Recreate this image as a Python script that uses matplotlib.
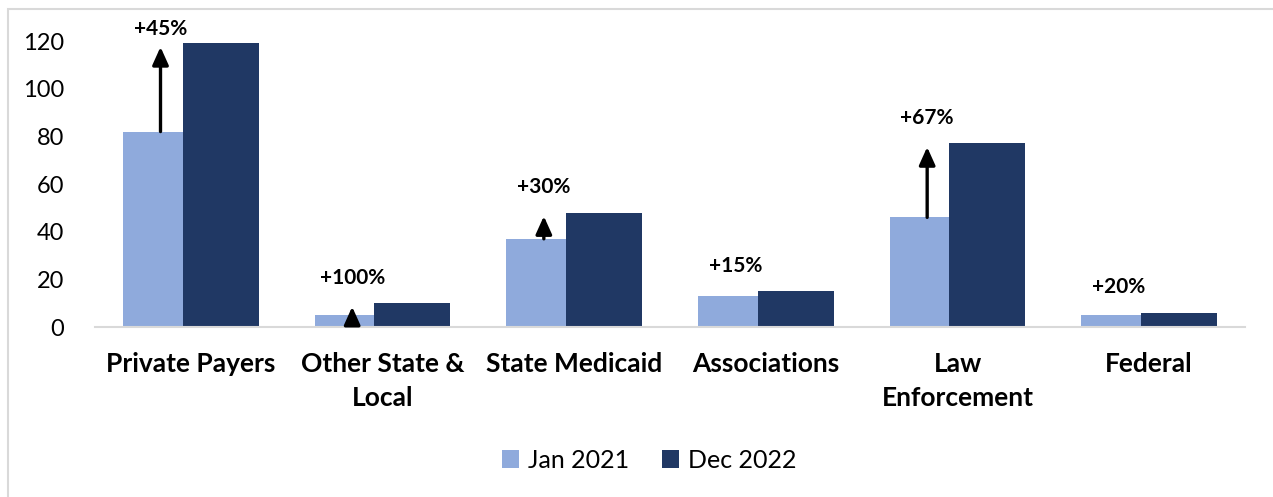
import numpy as np
import matplotlib
matplotlib.use("Agg")
import matplotlib.pyplot as plt
from matplotlib.patches import Rectangle

categories = ["Private Payers", "Other State &\nLocal", "State Medicaid",
              "Associations", "Law\nEnforcement", "Federal"]
jan_2021 = [82, 5, 37, 13, 46, 5]
dec_2022 = [119, 10, 48, 15, 77, 6]
growth_labels = ["+45%", "+100%", "+30%", "+15%", "+67%", "+20%"]
has_arrow = [True, True, True, False, True, False]

plt.rcParams['font.family'] = ['Lato', 'DejaVu Sans']

fig = plt.figure(figsize=(12.73, 4.97), dpi=100)
# light frame around the chart area
fig.patches.append(Rectangle((8/1273, -0.1), 1.2, (497-9)/497 + 0.1,
                             transform=fig.transFigure, fill=False,
                             edgecolor='#d9d9d9', lw=1.5))

ax = fig.add_axes([95/1273, 0.342, 1150/1273, 0.5755])

x = np.arange(len(categories))
w_jan = 0.3125
w_dec = 0.396
ax.bar(x - 0.042 - w_jan/2, jan_2021, w_jan, color='#8faadc', label='Jan 2021')
ax.bar(x - 0.042 + w_dec/2, dec_2022, w_dec, color='#203864', label='Dec 2022')

for i in range(len(categories)):
    xa = x[i] - 0.042 - w_jan/2 + 0.04
    if has_arrow[i]:
        ax.annotate("", xy=(xa, dec_2022[i] - 1.5), xytext=(xa, jan_2021[i]),
                    arrowprops=dict(arrowstyle='-|>,head_length=0.6,head_width=0.27',
                                    color='black', lw=2.4,
                                    mutation_scale=18, shrinkA=0, shrinkB=0),
                    annotation_clip=False)
    ty = min(dec_2022[i] + 10.6, 125)
    ax.text(xa, ty, growth_labels[i], ha='center', va='center',
            fontsize=15, fontweight='bold', clip_on=False)

ax.set_xlim(-0.5, len(categories) - 0.5)
ax.set_ylim(0, 120)
ax.set_yticks(range(0, 121, 20))
ax.set_xticks(x)
ax.set_xticklabels(categories, fontsize=19, fontweight='bold', linespacing=1.5)
ax.tick_params(axis='x', length=0, pad=18)
ax.tick_params(axis='y', length=0, pad=22, labelsize=17)
for s in ['top', 'right', 'left']:
    ax.spines[s].set_visible(False)
ax.spines['bottom'].set_color('#d9d9d9')
ax.spines['bottom'].set_linewidth(1.5)

fig.legend(loc='center', bbox_to_anchor=(649/1273, 1 - 460/497), ncol=2,
           frameon=False, fontsize=18, handlelength=0.7, handleheight=0.7,
           handletextpad=0.35, columnspacing=1.3)

fig.savefig("out.png", dpi=100)
